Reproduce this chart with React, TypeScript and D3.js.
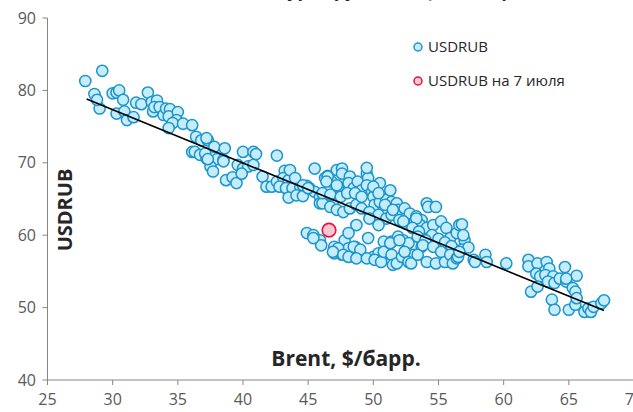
import { useMemo } from 'react';
import * as d3 from 'd3';

// Brent ($/bbl) vs USDRUB
const usdrubPoints: [number, number][] = [
  // 2016 start, oil below 40
  [27.9, 81.3], [29.2, 82.7], [28.6, 79.5], [29.0, 77.5], [28.8, 78.7], [30.0, 79.6], [30.3, 79.7],
  [30.5, 80.0], [30.8, 78.7], [30.3, 76.8], [30.9, 77.1], [31.1, 75.9], [31.6, 76.3], [31.8, 78.3],
  [32.2, 78.1], [32.7, 79.7], [33.0, 78.4], [33.4, 78.6], [33.1, 77.1], [33.2, 77.7], [33.6, 77.7],
  [33.9, 76.6], [34.1, 77.5], [34.4, 77.4], [34.3, 76.4], [35.0, 77.0], [34.9, 75.9], [34.6, 75.5],
  [34.3, 74.8], [35.4, 75.4], [36.1, 75.2], [36.4, 73.6], [36.8, 73.1], [37.3, 73.1], [36.1, 71.5],
  [36.3, 71.5], [36.7, 71.1], [37.2, 70.6], [37.8, 72.2], [38.0, 70.5], [38.6, 72.0], [38.5, 70.4],
  [37.5, 69.5], [37.2, 73.4], [37.1, 71.3], [37.3, 70.5], [38.5, 70.2], [37.7, 68.8], [38.7, 67.6],
  [39.2, 68.0], [39.5, 67.2], [40.0, 71.5], [40.8, 71.5], [41.0, 71.2], [39.6, 69.7], [40.0, 69.2],
  [40.4, 69.5], [40.8, 69.7], [39.9, 68.5], [41.5, 68.1], [41.8, 66.7], [42.2, 66.7], [42.6, 67.4],
  [42.6, 71.0], [43.2, 68.9], [43.1, 67.9], [43.5, 67.6], [42.8, 66.7], [43.3, 66.5], [43.8, 66.5],
  [44.4, 66.7], [44.9, 66.8], [43.5, 65.2], [44.1, 65.5], [44.6, 65.4], [45.5, 69.2], [45.1, 66.5],
  [45.5, 66.0], [45.9, 65.3], [46.3, 67.9], [46.5, 68.2], [46.8, 67.4], [47.2, 69.0], [47.3, 66.7],
  [47.2, 65.3], [45.9, 64.4], [46.4, 64.9], [46.9, 64.6],
  // upper band, oil 43-57
  [43.6, 69.0], [44.0, 67.9], [44.6, 66.9], [45.0, 66.5], [46.5, 68.1], [46.4, 67.4], [47.2, 66.9],
  [47.6, 69.2], [47.6, 68.5], [48.2, 68.1], [48.1, 67.2], [48.5, 66.5], [48.8, 67.4], [49.1, 66.2],
  [49.5, 68.5], [49.6, 67.9], [49.5, 66.9], [49.9, 66.0], [50.0, 65.3], [50.5, 67.2], [50.1, 64.2],
  [50.5, 64.6], [51.0, 64.9], [51.4, 64.6], [51.8, 64.4], [51.9, 63.5], [52.4, 63.7], [52.8, 63.0],
  [53.3, 62.6], [53.7, 62.1], [54.1, 64.4], [54.2, 63.9], [46.1, 64.4], [46.7, 63.9], [47.2, 63.5],
  [47.7, 63.2], [48.2, 63.7], [48.7, 64.2], [49.1, 63.7], [49.7, 63.2], [50.4, 62.8], [51.0, 62.3],
  [51.4, 62.8], [52.0, 62.1], [52.5, 61.6], [53.2, 61.9], [53.6, 61.4], [46.1, 65.8], [46.7, 65.6],
  [47.5, 65.3], [48.0, 65.8], [48.6, 65.8], [49.1, 65.3], [50.0, 66.7], [50.4, 65.8], [51.3, 66.2],
  [50.9, 64.2], [51.5, 63.5], [49.5, 69.3], [48.7, 61.4], [49.7, 62.3], [50.4, 61.4], [52.3, 61.9],
  [53.3, 62.3], [53.6, 59.6], [54.1, 61.0], [54.6, 61.4], [55.2, 61.9], [55.6, 61.0], [55.9, 59.6],
  [56.4, 60.3], [56.6, 61.4], [54.8, 63.9], [56.8, 61.5], [57.0, 59.3], [56.9, 60.0], [53.0, 61.0],
  [53.5, 60.5], [54.5, 60.0], [55.0, 59.5], [55.5, 59.0], [56.0, 58.5], [56.8, 58.0], [57.3, 58.3],
  // lower band
  [44.9, 60.3], [45.4, 60.0], [45.9, 59.3], [46.0, 58.6], [47.0, 58.4], [47.0, 57.5], [47.6, 57.3],
  [47.8, 59.3], [48.1, 58.2], [48.6, 58.4], [49.0, 57.3], [49.6, 59.6], [50.0, 57.0], [50.4, 57.5],
  [50.8, 59.1], [51.1, 57.5], [51.4, 59.1], [51.9, 59.8], [52.3, 59.3], [52.7, 58.9], [53.1, 57.3],
  [53.4, 59.8], [53.7, 58.4], [54.0, 59.3], [45.4, 59.6], [48.1, 60.3], [47.3, 58.2], [46.9, 57.7],
  [47.7, 57.3], [48.1, 57.0], [48.5, 58.4], [49.0, 58.0], [48.7, 56.8], [49.5, 56.8], [50.1, 56.6],
  [50.6, 56.3], [50.8, 57.7], [51.3, 58.9], [51.4, 57.3], [51.5, 55.9], [51.8, 56.1], [52.0, 59.3],
  [52.2, 57.0], [52.4, 57.7], [52.7, 56.3], [52.9, 56.1], [53.4, 57.3], [53.8, 58.6], [54.1, 56.3],
  [54.6, 58.4], [54.8, 56.1], [55.2, 57.7], [55.5, 56.3], [55.9, 57.3], [56.1, 56.1], [56.4, 56.8],
  [56.5, 57.0], [56.6, 57.7], [57.7, 56.6], [58.6, 57.3], [58.7, 56.3], [57.8, 56.3], [60.2, 56.1],
  // oil above 60
  [61.9, 56.6], [61.9, 55.7], [62.6, 56.1], [63.3, 56.3], [63.5, 55.4], [62.5, 54.7], [62.8, 54.3],
  [63.2, 54.5], [63.8, 54.3], [63.4, 53.6], [63.9, 53.4], [64.3, 54.0], [64.7, 55.6], [64.8, 53.6],
  [65.6, 54.4], [65.3, 52.7], [65.5, 52.2], [62.1, 52.2], [62.6, 52.9], [63.7, 51.1], [63.9, 49.7],
  [65.0, 49.7], [65.5, 50.4], [65.6, 51.3], [66.2, 49.4], [66.5, 49.9], [66.7, 49.4], [66.9, 50.1],
  [67.5, 50.6], [67.7, 51.0], [64.8, 54.0],
];

const july7Point: [number, number] = [46.6, 60.7];
const trendLine: [number, number][] = [[28.0, 78.8], [67.7, 49.6]];

const xTicks = [25, 30, 35, 40, 45, 50, 55, 60, 65, 70];
const yTicks = [40, 50, 60, 70, 80, 90];

const W = 633;
const H = 412;
const font = '"Open Sans", "Noto Sans", sans-serif';
const blueFill = '#c4ecfb';
const blueStroke = '#1b95cb';
const redFill = '#fcc5d0';
const redStroke = '#e0143f';
const axisColor = '#868686';
const labelColor = '#595959';

export default function App() {
  const x = useMemo(() => d3.scaleLinear().domain([25, 70]).range([47.5, 634]), []);
  const y = useMemo(() => d3.scaleLinear().domain([40, 90]).range([380, 18]), []);
  const line = d3.line<[number, number]>().x(d => x(d[0])).y(d => y(d[1]));

  return (
    <svg
      width={W}
      height={H}
      style={{ position: 'absolute', left: 0, top: 0, background: '#fff', overflow: 'hidden' }}
    >
      {/* title, cut off at the top in the source */}
      <text x={340} y={-3} textAnchor="middle" fontFamily={font} fontWeight={700} fontSize={18} fill="#262626">
        Зависимость курса рубля от цены нефти
      </text>

      {/* axes */}
      <line x1={x(25)} x2={x(25)} y1={y(90)} y2={y(40)} stroke={axisColor} strokeWidth={1} />
      <line x1={x(25)} x2={x(70)} y1={y(40)} y2={y(40)} stroke={axisColor} strokeWidth={1} />
      {yTicks.map(t => (
        <g key={'y' + t}>
          <line x1={x(25) - 5} x2={x(25)} y1={y(t)} y2={y(t)} stroke={axisColor} />
          <text x={36} y={y(t)} dy="0.35em" textAnchor="end" fontFamily={font} fontSize={16} fill={labelColor}>
            {t}
          </text>
        </g>
      ))}
      {xTicks.map(t => (
        <g key={'x' + t}>
          <line x1={x(t)} x2={x(t)} y1={y(40)} y2={y(40) + 5} stroke={axisColor} />
          <text x={x(t)} y={405} textAnchor="middle" fontFamily={font} fontSize={16} fill={labelColor}>
            {t}
          </text>
        </g>
      ))}

      {/* axis titles */}
      <text x={346} y={366} textAnchor="middle" fontFamily={font} fontWeight={700} fontSize={21} fill="#262626">
        Brent, $/барр.
      </text>
      <text
        transform={`translate(72, 210) rotate(-90)`}
        textAnchor="middle"
        fontFamily={font}
        fontWeight={700}
        fontSize={20}
        fill="#262626"
      >
        USDRUB
      </text>

      {/* points */}
      {usdrubPoints.map((d, i) => (
        <circle key={i} cx={x(d[0])} cy={y(d[1])} r={5.6} fill={blueFill} stroke={blueStroke} strokeWidth={1.5} />
      ))}

      {/* trend */}
      <path d={line(trendLine) ?? ''} fill="none" stroke="#000" strokeWidth={1.6} />

      <circle cx={x(july7Point[0])} cy={y(july7Point[1])} r={6.8} fill={redFill} stroke={redStroke} strokeWidth={1.6} />

      {/* legend */}
      <circle cx={418} cy={47} r={4} fill={blueFill} stroke={blueStroke} strokeWidth={1.5} />
      <text x={428} y={47} dy="0.35em" fontFamily={font} fontSize={15} fill="#262626">USDRUB</text>
      <circle cx={418} cy={81} r={4} fill={redFill} stroke={redStroke} strokeWidth={1.5} />
      <text x={428} y={81} dy="0.35em" fontFamily={font} fontSize={15} fill="#262626">USDRUB на 7 июля</text>
    </svg>
  );
}
